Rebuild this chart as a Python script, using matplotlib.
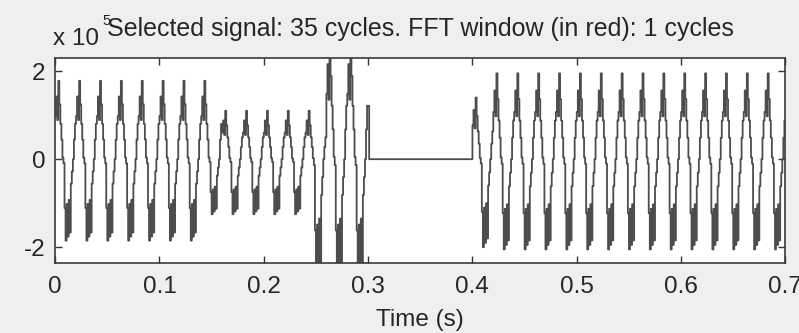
import numpy as np
import matplotlib.pyplot as plt

# sampled signal: 1 kHz, 50 Hz fundamental -> 20 samples per cycle, 35 cycles
fs = 1000
samples_per_cycle = 20

# one cycle (normalised: +1 = peak, -1 = trough)
cycle_shape = [0.55, 0.80, 0.50, 1.00, 0.70, 0.45, 0.25, 0.02, -0.05, -0.60,
               -1.00, -0.55, -0.95, -0.50, -0.90, -0.30, -0.15, 0.00, 0.25, 0.45]

# peak / trough amplitude of each of the 35 cycles (x 1e5)
peak_amp = [1.78, 1.78, 1.78, 1.78, 1.78, 1.78, 1.78, 1.78,
            1.10, 1.10, 1.10, 1.10, 1.10, 2.70, 2.70,
            2.20, 0, 0, 0, 0,
            1.40, 1.95, 1.95, 1.95, 1.95, 1.95, 1.95, 1.95,
            1.95, 1.95, 1.95, 1.95, 1.95, 1.95, 1.95]
trough_amp = [1.85, 1.85, 1.85, 1.85, 1.85, 1.85, 1.85, 1.25,
              1.25, 1.25, 1.25, 1.25, 2.70, 2.70, 2.70,
              0, 0, 0, 0, 0,
              2.00, 2.05, 2.05, 2.05, 2.05, 2.05, 2.05, 2.05,
              2.05, 2.05, 2.05, 2.05, 2.05, 2.05, 2.05]

# signal is off between these two times
gap_start = 0.300
gap_end = 0.400

xticks = [0, 0.1, 0.2, 0.3, 0.4, 0.5, 0.6, 0.7]
xticklabels = ['0', '0.1', '0.2', '0.3', '0.4', '0.5', '0.6', '0.7']
yticks = [-2, 0, 2]

title = 'Selected signal: 35 cycles. FFT window (in red): 1 cycles'

shape = np.array(cycle_shape)
y = []
for p, q in zip(peak_amp, trough_amp):
    y.append(np.where(shape >= 0, shape * p, shape * q))
y = np.concatenate(y) * 1e5
t = np.arange(len(y)) / fs
y[(t > gap_start + 1e-9) & (t < gap_end - 1e-9)] = 0
t = np.append(t, 0.7)
y = np.append(y, y[-1])

plt.rcParams['font.family'] = ['Liberation Sans', 'DejaVu Sans']
txt = '#262626'

fig = plt.figure(figsize=(7.99, 3.33), dpi=100, facecolor='#efefef')
ax = fig.add_axes([0.069, 0.21, 0.914, 0.616])
ax.set_facecolor('white')

ax.step(t, y / 1e5, where='post', color='#4d4d4d', lw=1.3)

ax.set_xlim(0, 0.7)
ax.set_ylim(-2.36, 2.30)
ax.set_xticks(xticks)
ax.set_xticklabels(xticklabels)
ax.set_yticks(yticks)
ax.set_yticklabels([str(v) for v in yticks])

ax.tick_params(direction='in', top=True, right=True, length=5, width=1,
               labelsize=17.5, colors='#333333', labelcolor=txt, pad=7)
ax.tick_params(axis='x', pad=9)
for s in ax.spines.values():
    s.set_color('#3a3a3a')
    s.set_linewidth(1.2)

ax.set_xlabel('Time (s)', fontsize=17.5, color=txt, labelpad=8)
ax.set_title(title, fontsize=18, color=txt, pad=16)

fig.text(0.066, 0.865, 'x 10', fontsize=17.5, color=txt, ha='left', va='baseline')
fig.text(0.128, 0.925, '5', fontsize=10.5, color=txt, ha='left', va='baseline')

fig.savefig('out.png', dpi=100, facecolor=fig.get_facecolor())
